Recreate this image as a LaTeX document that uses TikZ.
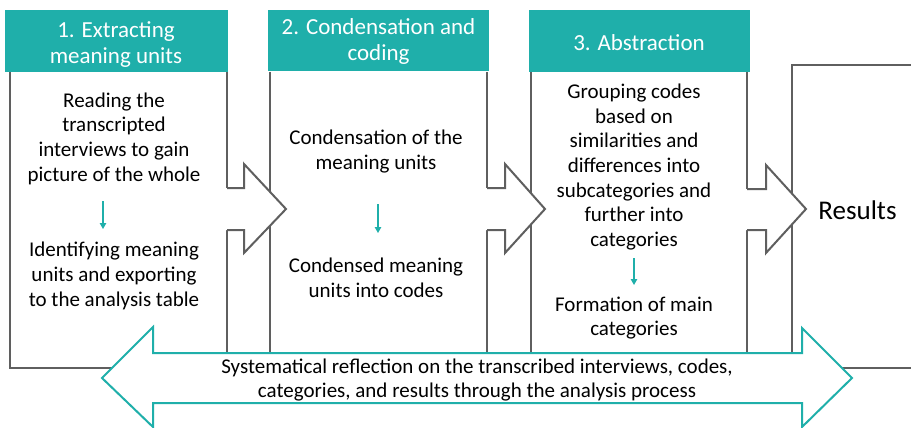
\documentclass[tikz,border=0pt]{standalone}
\usepackage{fontspec}
\setmainfont{Carlito}
\usetikzlibrary{arrows.meta}
\definecolor{teal1}{HTML}{1FAFAA}
\definecolor{gray1}{HTML}{5F5F5F}
\begin{document}
\begin{tikzpicture}[x=1pt,y=-1pt,
  boxline/.style={draw=gray1,line width=2pt},
  chev/.style={draw=gray1,line width=2pt,line join=miter},
  header/.style={fill=teal1,draw=none},
  htext/.style={text=white,font=\fontsize{23}{26.8}\selectfont,align=center,inner sep=0pt},
  btext/.style={text=black,font=\fontsize{21}{24.7}\selectfont,align=center,inner sep=0pt},
  smallarrow/.style={draw=teal1,line width=1.2pt,-{Triangle[width=6.5pt,length=6pt]}},
  bigarrow/.style={draw=teal1,fill=white,line width=2pt,line join=miter}
]
\useasboundingbox (0,0) rectangle (911,428);
% boxes
\draw[boxline] (10,72) -- (10,368) -- (227,368) -- (227,72);
\draw[boxline] (270,72) -- (270,368) -- (487,368) -- (487,72);
\draw[boxline] (531,72) -- (531,368) -- (747,368) -- (747,72);
\draw[boxline] (913,65) -- (792,65) -- (792,368) -- (913,368);
% chevrons
\fill[white] (222,188) -- (244,188) -- (244,164) -- (286,209) -- (244,253) -- (244,230) -- (222,230) -- cycle;
\draw[chev] (227,188) -- (244,188) -- (244,164) -- (286,209) -- (244,253) -- (244,230) -- (227,230);
\fill[white] (482,188) -- (505,188) -- (505,164) -- (545,209) -- (505,253) -- (505,230) -- (482,230) -- cycle;
\draw[chev] (487,188) -- (505,188) -- (505,164) -- (545,209) -- (505,253) -- (505,230) -- (487,230);
\fill[white] (742,189) -- (766,189) -- (766,165) -- (806,209) -- (766,253) -- (766,230) -- (742,230) -- cycle;
\draw[chev] (747,189) -- (766,189) -- (766,165) -- (806,209) -- (766,253) -- (766,230) -- (747,230);
% big double arrow
\draw[bigarrow] (102,378) -- (153,327) -- (153,353) -- (802,353) -- (802,328) -- (852,378) -- (802,427) -- (802,403) -- (153,403) -- (153,427) -- cycle;
% headers
\fill[header] (5,10) rectangle (228,72);
\fill[header] (268,10) rectangle (489,71);
\fill[header] (529,10) rectangle (750,72);
\node[htext] (h1) at (116,44.5) {1. Extracting\\meaning units};
\node[htext] (h2) at (378.5,41.5) {2. Condensation and\\coding};
\node[htext] (h3) at (639,43) {3. Abstraction};
% body texts
\node[btext] (t1a) at (114,138.5) {Reading the\\transcripted\\interviews to gain\\picture of the whole};
\node[btext] (t1b) at (114,276) {Identifying meaning\\units and exporting\\to the analysis table};
\node[btext] (t2a) at (376,151.5) {Condensation of the\\meaning units};
\node[btext] (t2b) at (376,278) {Condensed meaning\\units into codes};
\node[btext] (t3a) at (634,167) {Grouping codes\\based on\\similarities and\\differences into\\subcategories and\\further into\\categories};
\node[btext] (t3b) at (634,318) {Formation of main\\categories};
\node[btext,font=\fontsize{27}{32}\selectfont] (res) at (857.5,210) {Results};
\node[btext] (sys) at (477,380) {Systematical reflection on the transcribed interviews, codes,\\categories, and results through the analysis process};
% small arrows
\coordinate (a1s) at (103,201); \coordinate (a1e) at (103,229);
\coordinate (a2s) at (378,204); \coordinate (a2e) at (378,233);
\coordinate (a3s) at (634,258); \coordinate (a3e) at (634,285);
\draw[smallarrow] (a1s) -- (a1e);
\draw[smallarrow] (a2s) -- (a2e);
\draw[smallarrow] (a3s) -- (a3e);
\end{tikzpicture}
\end{document}
